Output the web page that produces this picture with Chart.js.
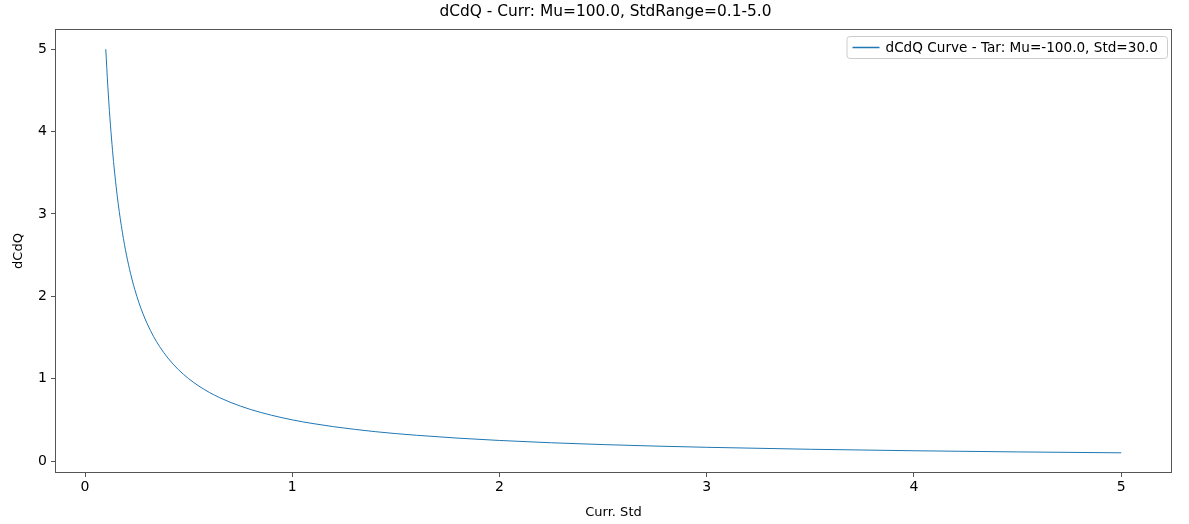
<!DOCTYPE html>
<html>
<head>
<meta charset="utf-8">
<script src="https://cdn.jsdelivr.net/npm/chart.js@4"></script>
<style>
html,body{margin:0;padding:0;background:#fff;}
#wrap{width:1189px;height:524px;}
</style>
</head>
<body>
<div id="wrap"><canvas id="c" width="1189" height="524"></canvas></div>
<script>
const currStd = [0.1, 0.11, 0.12, 0.13, 0.14, 0.15, 0.16, 0.17, 0.18, 0.19, 0.2, 0.22, 0.24, 0.26, 0.28, 0.3, 0.33, 0.36, 0.4, 0.45, 0.5, 0.55, 0.6, 0.65, 0.7, 0.75, 0.8, 0.9, 1.0, 1.1, 1.2, 1.3, 1.4, 1.5, 1.6, 1.8, 2.0, 2.25, 2.5, 2.75, 3.0, 3.5, 4.0, 4.5, 5.0];
const dCdQ = [5.0, 4.545, 4.167, 3.846, 3.571, 3.333, 3.125, 2.941, 2.778, 2.632, 2.5, 2.273, 2.083, 1.923, 1.786, 1.667, 1.515, 1.389, 1.25, 1.111, 1.0, 0.909, 0.833, 0.769, 0.714, 0.667, 0.625, 0.556, 0.5, 0.455, 0.417, 0.385, 0.357, 0.333, 0.313, 0.278, 0.25, 0.222, 0.2, 0.182, 0.167, 0.143, 0.125, 0.111, 0.1];
const xTicks = [0, 1, 2, 3, 4, 5];
const yTicks = [0, 1, 2, 3, 4, 5];
const seriesLabel = 'dCdQ Curve - Tar: Mu=-100.0, Std=30.0';
const chartTitle = 'dCdQ - Curr: Mu=100.0, StdRange=0.1-5.0';
const xLabel = 'Curr. Std';
const yLabel = 'dCdQ';

const FONT = 'DejaVu Sans';
const lineColor = '#1f77b4';

const framePlugin = {
  id: 'frame',
  afterDraw(chart) {
    const {ctx, chartArea: a} = chart;
    ctx.save();
    ctx.strokeStyle = '#555';
    ctx.lineWidth = 1;
    ctx.strokeRect(Math.round(a.left) + 0.5, Math.round(a.top) + 0.5, Math.round(a.right - a.left) - 1, Math.round(a.bottom - a.top) - 1);
    // title
    ctx.fillStyle = '#000';
    ctx.font = '15.4px "' + FONT + '"';
    ctx.textAlign = 'center';
    ctx.textBaseline = 'middle';
    ctx.fillText(chartTitle, (a.left + a.right) / 2 - 8, 12);
    // legend inside upper right
    ctx.textAlign = 'left';
    ctx.font = '13.6px "' + FONT + '"';
    const tw = ctx.measureText(seriesLabel).width;
    const boxW = tw + 48;
    const boxH = 22;
    const bx = a.right - 5 - boxW;
    const by = a.top + 7;
    ctx.fillStyle = 'rgba(255,255,255,0.8)';
    ctx.strokeStyle = '#ccc';
    ctx.beginPath();
    if (ctx.roundRect) ctx.roundRect(bx + 0.5, by + 0.5, boxW, boxH, 3); else ctx.rect(bx + 0.5, by + 0.5, boxW, boxH);
    ctx.fill();
    ctx.stroke();
    ctx.strokeStyle = lineColor;
    ctx.lineWidth = 1.5;
    ctx.beginPath();
    ctx.moveTo(bx + 6, by + boxH / 2 + 0.5);
    ctx.lineTo(bx + 33, by + boxH / 2 + 0.5);
    ctx.stroke();
    ctx.fillStyle = '#000';
    ctx.textBaseline = 'middle';
    ctx.fillText(seriesLabel, bx + 39, by + boxH / 2 + 1);
    ctx.restore();
  }
};

new Chart(document.getElementById('c'), {
  type: 'line',
  data: {
    datasets: [{
      label: seriesLabel,
      data: currStd.map((x, i) => ({x: x, y: dCdQ[i]})),
      borderColor: lineColor,
      borderWidth: 1,
      pointRadius: 0,
      fill: false,
      cubicInterpolationMode: 'monotone'
    }]
  },
  options: {
    responsive: false,
    animation: false,
    layout: {padding: {left: 0, right: 17, top: 29, bottom: 0}},
    plugins: {
      legend: {display: false},
      tooltip: {enabled: false},
      title: {display: false}
    },
    scales: {
      x: {
        type: 'linear',
        min: -0.145,
        max: 5.245,
        afterBuildTicks: s => { s.ticks = xTicks.map(v => ({value: v})); },
        afterFit: s => { s.height = 51; },
        border: {display: false},
        grid: {display: true, drawOnChartArea: false, drawTicks: true, tickLength: 4, color: '#555'},
        ticks: {color: '#000', font: {family: FONT, size: 14}, padding: 2, maxRotation: 0},
        title: {display: true, text: xLabel, color: '#000', font: {family: FONT, size: 13}, padding: {top: 2, bottom: 4}}
      },
      y: {
        type: 'linear',
        min: -0.145,
        max: 5.245,
        afterBuildTicks: s => { s.ticks = yTicks.map(v => ({value: v})); },
        afterFit: s => { s.width = 55; },
        border: {display: false},
        grid: {display: true, drawOnChartArea: false, drawTicks: true, tickLength: 4, color: '#555'},
        ticks: {color: '#000', font: {family: FONT, size: 14}, padding: 4},
        title: {display: true, text: yLabel, color: '#000', font: {family: FONT, size: 13}, padding: {top: 11, bottom: 0}}
      }
    }
  },
  plugins: [framePlugin]
});
</script>
</body>
</html>
